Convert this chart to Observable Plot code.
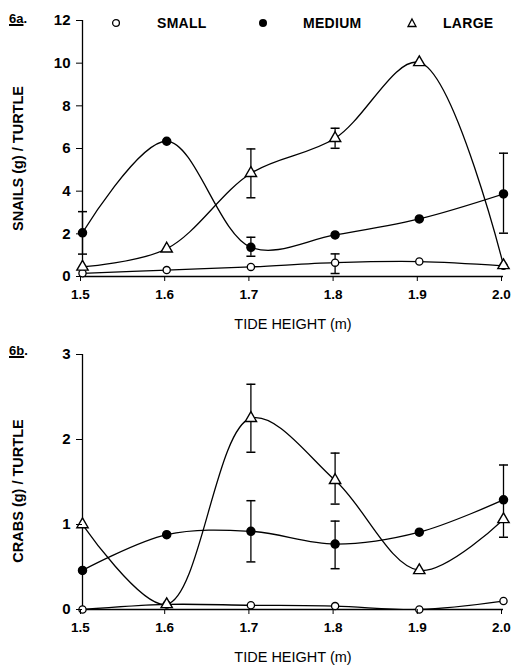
<!DOCTYPE html>
<html>
<head>
<meta charset="utf-8">
<script src="https://cdn.jsdelivr.net/npm/d3@7"></script>
<script src="https://cdn.jsdelivr.net/npm/@observablehq/plot@0.6"></script>
<style>
  html, body { margin: 0; padding: 0; background: #fff; }
  #wrap { position: relative; width: 512px; height: 668px; font-family: "Liberation Sans", Arial, sans-serif; }
  #wrap svg { display: block; }
  .lbl { position: absolute; font-weight: bold; font-size: 13px; color: #000; }
  .lbl u { text-decoration-thickness: 1.5px; }
  .leg { position: absolute; font-weight: bold; font-size: 14px; letter-spacing: 0.3px; line-height: 1; }
  .sym { position: absolute; }
</style>
</head>
<body>
<div id="wrap"></div>
<script>
// ---------- data ----------
const tide = [1.5, 1.6, 1.7, 1.8, 1.9, 2.0];
const sizes = ["SMALL", "MEDIUM", "LARGE"];

const snailsSmall  = [0.15, 0.30, 0.45, 0.65, 0.70, 0.50];
const snailsMedium = [2.05, 6.34, 1.37, 1.95, 2.70, 3.87];
const snailsLarge  = [0.45, 1.30, 4.84, 6.48, 10.04, 0.52];

const crabsSmall  = [0.00, 0.06, 0.05, 0.04, 0.00, 0.10];
const crabsMedium = [0.46, 0.88, 0.92, 0.77, 0.91, 1.29];
const crabsLarge  = [1.00, 0.06, 2.25, 1.52, 0.46, 1.06];

// error bars
const snailsErrX  = [1.5, 1.7, 1.7, 1.8, 1.8, 2.0];
const snailsErrLo = [1.05, 0.95, 3.69, 6.01, 0.14, 2.03];
const snailsErrHi = [3.04, 1.84, 5.98, 6.95, 1.06, 5.78];

const crabsErrX  = [1.7, 1.7, 1.8, 1.8, 2.0];
const crabsErrLo = [1.85, 0.56, 1.24, 0.48, 0.85];
const crabsErrHi = [2.65, 1.28, 1.84, 1.04, 1.70];

const snailsTicks = [0, 2, 4, 6, 8, 10, 12];
const crabsTicks  = [0, 1, 2, 3];
const xTicks = tide;

// ---------- helpers ----------
const capSymbol = { draw(ctx) { ctx.moveTo(-4.5, 0); ctx.lineTo(4.5, 0); } };

function rows(small, medium, large) {
  const out = [];
  [small, medium, large].forEach((arr, k) => arr.forEach((v, i) => out.push({x: tide[i], y: v, size: sizes[k]})));
  return out;
}
function errRows(xs, lo, hi) {
  return xs.map((x, i) => ({x, lo: lo[i], hi: hi[i]}));
}

function panel({data, err, yMax, yTicks, yLabel, height, marginTop, marginBottom, labelDy}) {
  const by = s => data.filter(d => d.size === s);
  return Plot.plot({
    width: 512,
    height,
    marginLeft: 82,
    marginRight: 9,
    marginTop,
    marginBottom,
    style: {fontFamily: '"Liberation Sans", Arial, sans-serif', fontSize: "14px", fontWeight: "bold", color: "#000", background: "#fff", overflow: "visible"},
    x: {domain: [1.5, 2.0], label: null},
    y: {domain: [0, yMax], label: null},
    marks: [
      Plot.ruleX([1.5], {stroke: "#000", strokeWidth: 1.3}),
      Plot.ruleY([0], {stroke: "#000", strokeWidth: 1.6}),
      Plot.line(by("SMALL"), {x: "x", y: "y", curve: "catmull-rom", stroke: "#000", strokeWidth: 1.3, clip: true}),
      Plot.line(by("MEDIUM"), {x: "x", y: "y", curve: "catmull-rom", stroke: "#000", strokeWidth: 1.3, clip: true}),
      Plot.line(by("LARGE"), {x: "x", y: "y", curve: "catmull-rom", stroke: "#000", strokeWidth: 1.3, clip: true}),
      Plot.ruleX(err, {x: "x", y1: "lo", y2: "hi", stroke: "#000", strokeWidth: 1.3}),
      Plot.dot(err, {x: "x", y: "lo", symbol: capSymbol, stroke: "#000", strokeWidth: 1.5, r: 4}),
      Plot.dot(err, {x: "x", y: "hi", symbol: capSymbol, stroke: "#000", strokeWidth: 1.5, r: 4}),
      Plot.dot(by("SMALL"), {x: "x", y: "y", symbol: "circle", r: 3.6, fill: "#fff", stroke: "#000", strokeWidth: 1.3}),
      Plot.dot(by("MEDIUM"), {x: "x", y: "y", symbol: "circle", r: 4, fill: "#000", stroke: "#000"}),
      Plot.dot(by("LARGE"), {x: "x", y: "y", symbol: "triangle", r: 4.2, fill: "#fff", stroke: "#000", strokeWidth: 1.4}),
      Plot.axisX({ticks: xTicks, tickFormat: d3.format(".1f"), tickSize: 5, tickPadding: 8, fontSize: 13.5, letterSpacing: 0.5, dx: -2, label: null}),
      Plot.axisY({ticks: yTicks, tickFormat: d3.format("d"), tickSize: 6, tickPadding: 6, fontSize: 15, label: null}),
      Plot.text(["TIDE HEIGHT (m)"], {frameAnchor: "bottom", dy: 52, fontWeight: "normal", fontSize: 14.5, fill: "#000", text: d => d}),
      Plot.text([yLabel], {frameAnchor: "left", textAnchor: "middle", rotate: -90, dx: -64, dy: labelDy, fontSize: 14.5, fill: "#000", text: d => d})
    ]
  });
}

const wrap = document.getElementById("wrap");

wrap.appendChild(panel({
  data: rows(snailsSmall, snailsMedium, snailsLarge),
  err: errRows(snailsErrX, snailsErrLo, snailsErrHi),
  yMax: 12, yTicks: snailsTicks, yLabel: "SNAILS (g) / TURTLE",
  height: 334, marginTop: 20, marginBottom: 58, labelDy: 10
}));
wrap.appendChild(panel({
  data: rows(crabsSmall, crabsMedium, crabsLarge),
  err: errRows(crabsErrX, crabsErrLo, crabsErrHi),
  yMax: 3, yTicks: crabsTicks, yLabel: "CRABS (g) / TURTLE",
  height: 334, marginTop: 20, marginBottom: 59, labelDy: 9
}));

// panel labels
function addHTML(html, cls, left, top) {
  const el = document.createElement("div");
  el.className = cls;
  el.style.left = left + "px";
  el.style.top = top + "px";
  el.innerHTML = html;
  wrap.appendChild(el);
}
addHTML("<u>6a</u>.", "lbl", 9, 11);
addHTML("<u>6b</u>.", "lbl", 9, 343);

// legend
const legSymbols = [
  '<svg width="12" height="12"><circle cx="6" cy="6" r="3.4" fill="#fff" stroke="#000" stroke-width="1.3"/></svg>',
  '<svg width="12" height="12"><circle cx="6" cy="6" r="4" fill="#000"/></svg>',
  '<svg width="12" height="12"><path d="M6,2 L10,9.5 L2,9.5 Z" fill="#fff" stroke="#000" stroke-width="1.3"/></svg>'
];
const legSymX = [110, 257, 406];
const legTextX = [157, 303, 443];
sizes.forEach((s, i) => {
  addHTML(legSymbols[i], "sym", legSymX[i], 17);
  addHTML(s, "leg", legTextX[i], 16);
});
</script>
</body>
</html>
